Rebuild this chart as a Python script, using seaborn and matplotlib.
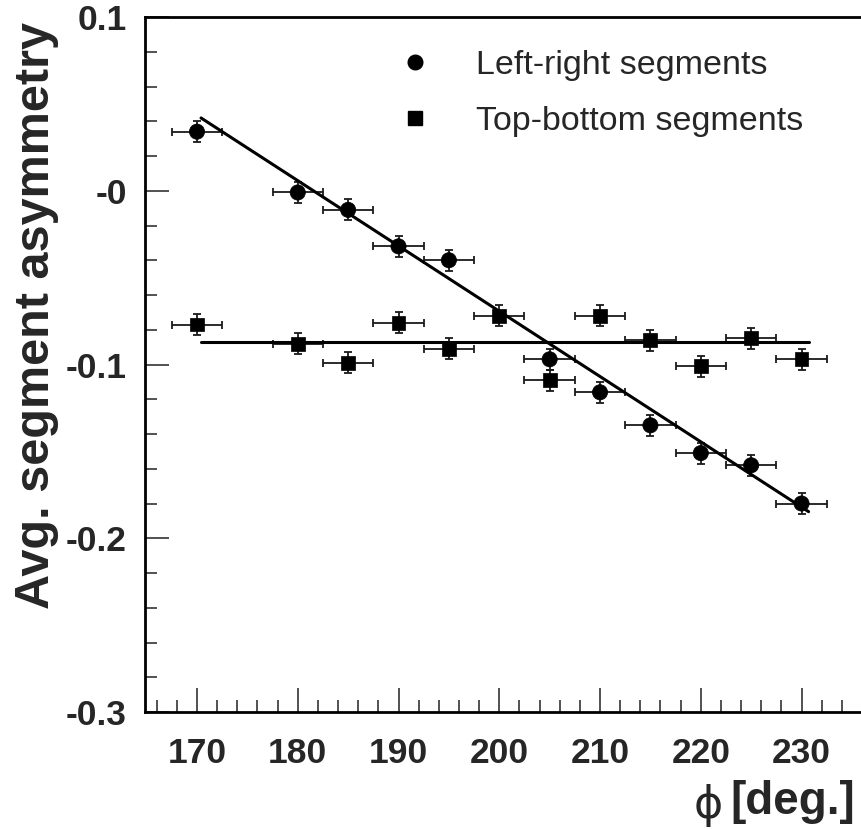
import numpy as np
import pandas as pd
import matplotlib
matplotlib.use("Agg")
import matplotlib.pyplot as plt
from matplotlib.ticker import MultipleLocator, FixedLocator
from matplotlib.lines import Line2D
import seaborn as sns

# ---- data ----
phi_lr = [170, 180, 185, 190, 195, 205, 210, 215, 220, 225, 230]
asym_lr = [0.034, -0.001, -0.011, -0.032, -0.040, -0.097, -0.116, -0.135, -0.151, -0.158, -0.180]
phi_tb = [170, 180, 185, 190, 195, 200, 205, 210, 215, 220, 225, 230]
asym_tb = [-0.077, -0.088, -0.099, -0.076, -0.091, -0.072, -0.109, -0.072, -0.086, -0.101, -0.085, -0.097]
phi_err = 2.5
asym_err = 0.006
fit_x = [170.4, 230.7]
fit_lr = [0.0419, -0.1847]
fit_tb = [-0.0872, -0.0872]
series_names = ["Left-right segments", "Top-bottom segments"]
y_ticks = [0.1, 0.0, -0.1, -0.2, -0.3]
y_ticklabels = ["0.1", "-0", "-0.1", "-0.2", "-0.3"]
x_ticks = [170, 180, 190, 200, 210, 220, 230]

sns.set_theme(style="ticks")
plt.rcParams["font.family"] = ["Liberation Sans", "DejaVu Sans"]

W, H = 861, 830
fig = plt.figure(figsize=(W / 100, H / 100), dpi=100)
ax = fig.add_axes([145 / W, 1 - 712 / H, 717 / W, 695 / H])

df = pd.DataFrame({
    "phi": phi_lr + phi_tb,
    "asym": asym_lr + asym_tb,
    "series": [series_names[0]] * len(phi_lr) + [series_names[1]] * len(phi_tb),
})

# error bars
ax.errorbar(df["phi"], df["asym"], xerr=phi_err, yerr=asym_err, fmt="none",
            ecolor="#1a1a1a", elinewidth=1.3, capsize=3, capthick=1.3, zorder=2)

# fit lines
fit_df = pd.DataFrame({"x": fit_x * 2, "y": fit_lr + fit_tb, "fit": ["lr", "lr", "tb", "tb"]})
sns.lineplot(data=fit_df, x="x", y="y", units="fit", estimator=None, color="black",
             linewidth=2.2, ax=ax, zorder=3, legend=False)

# markers
sns.scatterplot(data=df, x="phi", y="asym", style="series",
                markers={series_names[0]: "o", series_names[1]: "s"},
                size="series", sizes={series_names[0]: 120, series_names[1]: 100},
                color="black", edgecolor="black", linewidth=0.5, ax=ax, zorder=4, legend=False)

ax.set_xlim(164.84, 236.0)
ax.set_ylim(-0.3, 0.1)
ax.xaxis.set_major_locator(FixedLocator(x_ticks))
ax.xaxis.set_minor_locator(MultipleLocator(2))
ax.yaxis.set_major_locator(FixedLocator(y_ticks))
ax.set_yticklabels(y_ticklabels)
ax.yaxis.set_minor_locator(MultipleLocator(0.02))
ax.set_xlabel("")
ax.set_ylabel("")

ax.tick_params(which="both", direction="in", color="#333333", width=1.2)
ax.tick_params(which="major", length=17)
ax.tick_params(which="minor", length=8.5)
ax.tick_params(axis="x", which="major", pad=18, labelsize=25.5)
ax.tick_params(axis="y", which="major", pad=13, labelsize=25.5)
for lab in ax.get_xticklabels() + ax.get_yticklabels():
    lab.set_fontweight("bold")

for s in ["left", "bottom", "top"]:
    ax.spines[s].set_visible(True)
    ax.spines[s].set_linewidth(2.0)
    ax.spines[s].set_color("black")
ax.spines["right"].set_visible(False)

# legend
handles = [Line2D([], [], marker="o", linestyle="none", color="black", markersize=10.5),
           Line2D([], [], marker="s", linestyle="none", color="black", markersize=9.5)]
fig.legend(handles, series_names, loc="upper left",
           bbox_to_anchor=(398 / W, 1 - 50 / H), frameon=False, fontsize=24.5,
           handlelength=1.0, handletextpad=1.3, labelspacing=0.73,
           borderpad=0, borderaxespad=0)

# axis titles
fig.text(37 / W, 1 - 22 / H, "Avg. segment asymmetry", rotation=90, ha="center", va="top",
         fontsize=35, fontweight="bold")
fig.text(855 / W, 1 - 802 / H, "[deg.]", ha="right", va="center", fontsize=33, fontweight="bold")
fig.text(708 / W, 1 - 805 / H, "\u03d5", ha="center", va="center", fontsize=32,
         family=["DejaVu Sans"])

fig.savefig("out.png", dpi=100, facecolor="white")
